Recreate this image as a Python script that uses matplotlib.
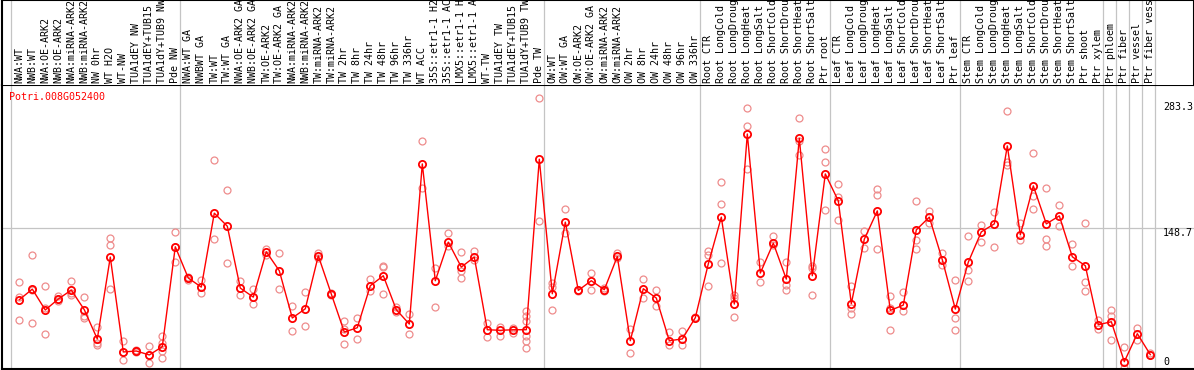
import matplotlib
matplotlib.use("Agg")
import matplotlib.pyplot as plt

categories = [
    "NWA:WT", "NWB:WT", "NWA:OE-ARK2", "NWB:OE-ARK2", "NWA:miRNA-ARK2", "NWB:miRNA-ARK2",
    "NW 0hr", "WT H2O", "WT-NW", "TUA1dEY NW", "TUA1dEY+TUB15 NW", "TUA1dY+TUB9 NW", "Pde NW",
    "NWA:WT GA", "NWBWT GA", "TW:WT", "TW:WT GA", "NWA:OE-ARK2 GA", "NWB:OE-ARK2 GA",
    "TW:OE-ARK2", "TW:OE-ARK2 GA", "NWA:miRNA-ARK2", "NWB:miRNA-ARK2", "TW:miRNA-ARK2",
    "TW:miRNA-ARK2", "TW 2hr", "TW 8hr", "TW 24hr", "TW 48hr", "TW 96hr", "TW 336hr",
    "WT ACC", "35S::etr1-1 H2O", "35S::etr1-1 ACC", "LMX5::etr1-1 H2O", "LMX5::etr1-1 ACC",
    "WT-TW", "TUA1dEY TW", "TUA1dEY+TUB15 TW", "TUA1dY+TUB9 TW", "Pde TW",
    "OW:WT", "OW:WT GA", "OW:OE-ARK2", "OW:OE-ARK2 GA", "OW:miRNA-ARK2", "OW:miRNA-ARK2",
    "OW 2hr", "OW 8hr", "OW 24hr", "OW 48hr", "OW 96hr", "OW 336hr",
    "Root CTR", "Root LongCold", "Root LongDrought", "Root LongHeat", "Root LongSalt",
    "Root ShortCold", "Root ShortDrought", "Root ShortHeat", "Root ShortSalt", "Ptr root",
    "Leaf CTR", "Leaf LongCold", "Leaf LongDrought", "Leaf LongHeat", "Leaf LongSalt",
    "Leaf ShortCold", "Leaf ShortDrought", "Leaf ShortHeat", "Leaf ShortSalt", "Ptr leaf",
    "Stem CTR", "Stem LongCold", "Stem LongDrought", "Stem LongHeat", "Stem LongSalt",
    "Stem ShortCold", "Stem ShortDrought", "Stem ShortHeat", "Stem ShortSalt", "Ptr shoot",
    "Ptr xylem", "Ptr phloem", "Ptr fiber", "Ptr vessel", "Ptr fiber vessel",
]

means = [
    73.7, 84.7, 63.0, 74.4, 83.7, 63.3, 32.9, 118.0, 19.4, 20.4,
    16.3, 24.9, 128.7, 96.2, 86.8, 163.6, 150.1, 85.8, 76.4, 123.5,
    103.8, 54.7, 64.3, 119.3, 79.6, 40.1, 44.6, 88.2, 98.6, 63.3,
    48.4, 214.8, 93.4, 133.5, 107.6, 118.0, 42.5, 41.9, 42.5, 42.5,
    219.7, 79.9, 154.3, 83.4, 93.4, 84.1, 118.6, 31.1, 85.1, 75.4,
    31.1, 32.9, 55.0, 111.0, 159.5, 69.2, 245.9, 101.4, 132.5, 95.1,
    241.4, 98.6, 204.4, 176.4, 69.5, 136.6, 166.0, 62.6, 68.1, 146.3,
    159.5, 115.2, 64.0, 112.8, 144.2, 152.5, 233.5, 141.1, 192.0, 152.5,
    160.8, 118.3, 109.0, 47.7, 50.8, 9.3, 38.4, 16.6,
]

replicates = [
    [92.0, 76.4, 52.9], [120.4, 49.5, 84.2], [88.2, 38.0, 64.7], [77.1, 71.9, 74.4],
    [93.4, 78.9, 80.6], [76.4, 56.4, 54.3], [45.3, 28.7, 27.0], [138.0, 130.8, 84.7],
    [31.1, 11.4, 19.4], [19.5, 20.4, 21.3], [25.3, 8.0, 16.3], [35.6, 28.7, 20.1, 13.1],
    [143.9, 112.8, 128.7], [97.2, 94.4, 96.2], [94.1, 80.6, 86.8], [219.0, 136.6],
    [187.8, 111.7], [93.4, 78.9], [84.7, 69.2], [126.3, 120.4],
    [122.4, 84.7], [67.5, 41.5], [81.6, 46.4], [122.1, 116.9],
    [80.6, 78.2], [51.9, 43.6, 27.7], [54.7, 33.2], [95.5, 82.3],
    [109.0, 107.2, 79.9], [65.7, 60.9], [58.8, 38.0], [238.7, 189.6],
    [106.5, 66.1], [142.9, 129.0], [123.1, 103.1, 96.2], [124.5, 115.2],
    [49.5, 34.9], [45.3, 35.6], [44.3, 39.1], [61.6, 56.4, 51.2, 35.6, 30.4, 23.5],
    [283.3, 155.7], [91.0, 86.5, 63.3], [168.1, 142.9], [82.5, 84.1],
    [101.7, 84.1], [85.8, 82.3], [122.1, 116.9], [43.6, 18.3],
    [95.5, 75.4], [84.1, 67.5], [40.1, 26.3], [41.5, 26.3],
    [55.7], [124.5, 119.7, 87.5], [195.8, 173.0, 111.7], [78.2, 75.4, 55.3],
    [272.6, 254.2, 209.3], [112.4, 92.0], [139.4, 130.1], [112.8, 89.2, 84.1],
    [262.2, 239.0, 224.1], [109.0, 106.5, 78.9], [230.0, 216.5, 167.1], [193.7, 180.2, 156.7],
    [87.5, 65.0, 59.1], [144.6, 127.3], [188.9, 182.6, 126.6], [77.8, 65.0, 42.5],
    [82.0, 61.6], [176.4, 135.9, 126.6], [166.0, 153.2], [122.1, 109.3],
    [94.4, 54.7, 42.5], [140.1, 104.8, 93.4], [151.5, 133.2], [164.7, 128.3],
    [269.5, 217.2, 213.8], [153.2, 135.9], [225.9, 181.6, 168.1], [189.6, 137.0, 129.7],
    [172.3, 150.5], [131.4, 109.0], [153.2, 91.7, 83.0], [52.2, 43.2],
    [63.3, 56.4, 31.5], [24.6, 2.8], [44.6, 32.2], [18.3, 15.9],
]

group_last_index = [-1, 12, 40, 52, 62, 72, 83, 84, 85, 86, 87]
ytick_values = [283.3, 148.7, 0]
ytick_labels = ["283.3", "148.7", "0"]
gene_id = "Potri.008G052400"

W, H = 1194, 370
fig = plt.figure(figsize=(W / 100, H / 100), dpi=100)
top_band = 85
plot_bottom = 369
ax = fig.add_axes([2 / W, (H - plot_bottom) / H, (W - 2) / W, (plot_bottom - top_band) / H])
lax = fig.add_axes([2 / W, (H - top_band) / H, (W - 2) / W, top_band / H], sharex=ax)

mono = "DejaVu Sans Mono"
fs = 7.2
grid_c = "#c4c4c4"
rep_c = "#ee8c8c"

x = list(range(len(categories)))
ax.set_xlim(-1.33, 90.36)
ax.set_ylim(1.7, 296.8)

for g in group_last_index:
    ax.axvline(g + 0.35, color=grid_c, lw=0.9, zorder=0)
    lax.axvline(g + 0.35, color=grid_c, lw=0.9, zorder=0)
ax.axhline(ytick_values[1], color=grid_c, lw=0.9, zorder=0)

for i, reps in enumerate(replicates):
    ax.plot([i] * len(reps), reps, linestyle="none", marker="o", ms=5.0,
            mfc="none", mec=rep_c, mew=0.9, zorder=2, clip_on=False)

ax.plot(x, means, color="red", lw=1.0, marker="o", ms=5.2, mfc="none",
        mec="red", mew=1.3, zorder=3)

# y labels (right side)
ypos_frac = [0.9225, 0.4789, 0.0246]
for yf, lab in zip(ypos_frac, ytick_labels):
    ax.text((1163 - 2) / (W - 2), yf, lab, transform=ax.transAxes, ha="left",
            va="center", fontsize=fs, family=mono, color="black")

ax.text((9.5 - 2) / (W - 2), (plot_bottom - 96.7) / (plot_bottom - top_band), gene_id,
        transform=ax.transAxes, ha="left", va="center", fontsize=fs, family=mono,
        color="red")

for i, lab in enumerate(categories):
    lax.text(i, 2 / top_band, lab, transform=lax.get_xaxis_transform(), rotation=90,
             ha="center", va="bottom", fontsize=fs, family=mono, color="black")

for a in (ax, lax):
    a.set_xticks([])
    a.set_yticks([])
    for s in a.spines.values():
        s.set_visible(False)
for s in ("left", "bottom", "top"):
    ax.spines[s].set_visible(True)
    ax.spines[s].set_linewidth(1.5)
    ax.spines[s].set_color("black")
lax.spines["left"].set_visible(True)
lax.spines["left"].set_linewidth(1.5)
for s in ("top", "right"):
    lax.spines[s].set_visible(True)
    lax.spines[s].set_linewidth(1.5)
    lax.spines[s].set_color("black")
ax.set_facecolor("white")
lax.set_facecolor("white")

fig.savefig("out.png", dpi=100)
